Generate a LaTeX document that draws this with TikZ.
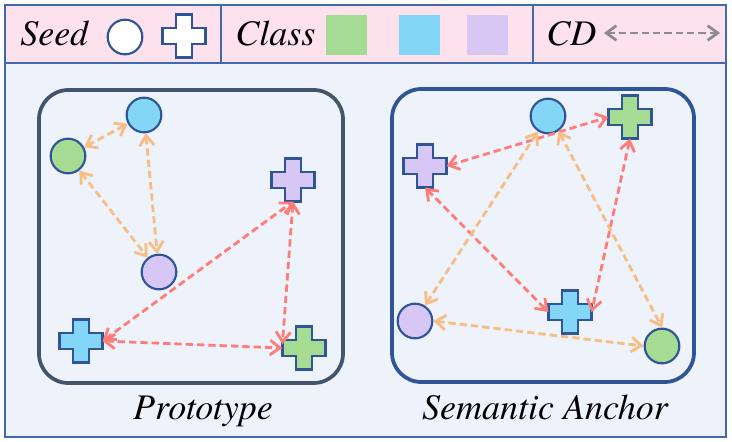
\documentclass[tikz,border=0pt]{standalone}
\usepackage{fontspec}
\IfFontExistsTF{texgyretermes-italic.otf}
  {\newfontfamily\lblfont{texgyretermes-italic.otf}}
  {\newcommand{\lblfont}{\rmfamily\itshape}}
\usepackage{tikz}
\usetikzlibrary{arrows.meta,calc}
\definecolor{hdr}{HTML}{FDE2EE}
\definecolor{bgb}{HTML}{EEF2FB}
\definecolor{frm}{HTML}{4169AE}
\definecolor{edge}{HTML}{2F5597}
\definecolor{slate}{HTML}{44546A}
\definecolor{cgreen}{HTML}{A6DB93}
\definecolor{cblue}{HTML}{84D6F6}
\definecolor{cpurple}{HTML}{D7C7F5}
\definecolor{oline}{HTML}{F7BE84}
\definecolor{rline}{HTML}{FF7C78}
\definecolor{gline}{HTML}{8C8C8C}
\tikzset{
  >={Straight Barb[length=7.5pt,width=11pt]},
  dot/.style={circle,draw=edge,line width=1.6pt,minimum size=26pt,inner sep=0pt},
  plusbox/.style={rectangle,minimum size=32pt,inner sep=0pt},
  sq/.style={rectangle,minimum width=30.75pt,minimum height=30pt,inner sep=0pt},
  lbl/.style={font=\fontsize{27}{30}\selectfont\lblfont,inner sep=0pt},
  grp/.style={rounded corners=22pt,line width=2.8pt},
  oarr/.style={<->,draw=oline,line width=2.1pt,dash pattern=on 5.5pt off 3pt},
  rarr/.style={oarr,draw=rline},
  garr/.style={oarr,draw=gline},
}
% plus-shaped marker: name, position, fill
\newcommand{\plusnode}[3]{%
  \node[plusbox] (#1) at (#2) {};
  \filldraw[fill=#3,draw=edge,line width=1.6pt] ([shift={(-8.4,-21.5)}]#1.center)
    -- ++(16.8,0) -- ++(0,13.1) -- ++(13.1,0) -- ++(0,16.8) -- ++(-13.1,0)
    -- ++(0,13.1) -- ++(-16.8,0) -- ++(0,-13.1) -- ++(-13.1,0) -- ++(0,-16.8)
    -- ++(13.1,0) -- cycle;
}
\begin{document}
\begin{tikzpicture}[x=0.75pt,y=-0.75pt]
\useasboundingbox (0,0) rectangle (732,442);
% legend bar and panel
\draw[frm,line width=1.5pt,fill=bgb] (5,63) rectangle (726,437);
\draw[frm,line width=1.5pt,fill=hdr] (5,5) rectangle (726,63);
\draw[frm,line width=1.5pt] (221,5) -- (221,63) (533,5) -- (533,63);
\node[lbl,anchor=base west] (seed) at (20,46) {Seed};
\node[dot,fill=white] (sc) at (125,37) {};
\plusnode{sp}{184,36}{white}
\node[lbl,anchor=base west] (cls) at (235,46) {Class};
\foreach \x/\c in {346/cgreen,419/cblue,487/cpurple}
  \node[sq,fill=\c] (sq\c) at (\x,35) {};
\node[lbl,anchor=base west] (cd) at (546,46) {CD};
\coordinate (cdl) at (604,33);
\coordinate (cdr) at (720,33);
\draw[garr] (cdl) -- (cdr);
% prototype group
\draw[grp,draw=slate] (39,90) rectangle (343,383);
\node[dot,fill=cgreen] (pgc) at (68,156) {};
\node[dot,fill=cblue] (pbc) at (144,115) {};
\node[dot,fill=cpurple] (ppc) at (159,272) {};
\plusnode{ppp}{293,180}{cpurple}
\plusnode{pbp}{81,341}{cblue}
\plusnode{pgp}{304,348}{cgreen}
\draw[oarr] (pgc) -- (pbc);
\draw[oarr] (pbc) -- (ppc);
\draw[oarr] (pgc) -- (ppc);
\draw[rarr] (pbp.east) -- (ppp.south);
\draw[rarr] (pbp.east) -- (pgp.west);
\draw[rarr] (ppp.south) -- (pgp.170);
\node[lbl,anchor=base] (plab) at (203,419) {Prototype};
% semantic anchor group
\draw[grp,draw=edge] (392,89) rectangle (694,382);
\node[dot,fill=cblue] (abc) at (548,116) {};
\node[dot,fill=cpurple] (apc) at (415,321) {};
\node[dot,fill=cgreen] (agc) at (662,346) {};
\plusnode{agp}{630,117}{cgreen}
\plusnode{app}{425,166}{cpurple}
\plusnode{abp}{570,312}{cblue}
\draw[rarr] (app.east) -- (agp.west);
\draw[rarr] (app.south) -- (abp.west);
\draw[rarr] (agp.south) -- (abp.east);
\draw[oarr] (abc) -- (apc);
\draw[oarr] (abc.-55) -- (agc.north);
\draw[oarr] (apc.east) -- (agc.west);
\node[lbl,anchor=base] (alab) at (545,419) {Semantic Anchor};
\end{tikzpicture}
\end{document}
